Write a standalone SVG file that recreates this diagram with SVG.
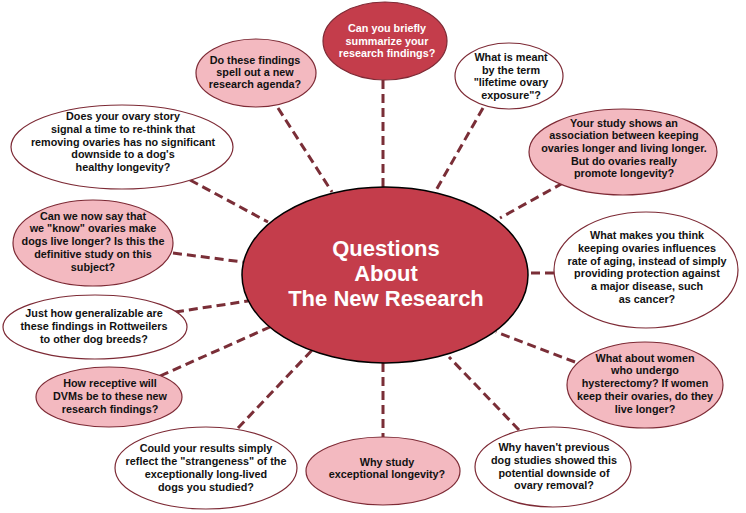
<svg xmlns="http://www.w3.org/2000/svg" width="746" height="513" viewBox="0 0 746 513">
<style>
.bg{fill:#ffffff}
.con line{stroke:#7a2e37;stroke-width:3;stroke-dasharray:9 5;fill:none}
.n{stroke:#7d2a35;stroke-width:1.2}
.w{fill:#ffffff}
.p{fill:#f3b9c0}
.d{fill:#c43d4b}
.t{font-family:"Liberation Sans",Arial,sans-serif;font-weight:bold;font-size:10.8px;fill:#111111;text-anchor:middle}
.tw{fill:#ffffff}
.ct{font-family:"Liberation Sans",Arial,sans-serif;font-weight:bold;font-size:22px;fill:#ffffff;text-anchor:middle}
</style>
<rect class="bg" width="746" height="513"/>
<g id="connectors" class="con">
<line x1="383" y1="80" x2="383" y2="187"/>
<line x1="278" y1="108" x2="332" y2="192"/>
<line x1="483" y1="108" x2="435" y2="192"/>
<line x1="563" y1="183" x2="500" y2="218"/>
<line x1="554" y1="273" x2="528" y2="273"/>
<line x1="575" y1="362" x2="496" y2="332"/>
<line x1="519" y1="430" x2="449" y2="357"/>
<line x1="383" y1="363" x2="383" y2="437"/>
<line x1="238" y1="428" x2="315" y2="347"/>
<line x1="160" y1="376" x2="270" y2="327"/>
<line x1="175" y1="312" x2="248" y2="301"/>
<line x1="173" y1="253" x2="243" y2="262"/>
<line x1="190" y1="180" x2="268" y2="222"/>
</g>
<g id="center">
<ellipse cx="385" cy="275" rx="143" ry="88" fill="#c43d4b" stroke="#000000" stroke-width="1.5"/>
<text class="ct" x="386" y="256">Questions</text>
<text class="ct" x="386" y="281">About</text>
<text class="ct" x="386" y="306">The New Research</text>
</g>
<g id="n-summarize">
<ellipse class="n d" cx="385" cy="41" rx="62" ry="39"/>
<text class="t tw" x="387" y="32">Can you briefly</text>
<text class="t tw" x="387" y="45">summarize your</text>
<text class="t tw" x="387" y="57">research findings?</text>
</g>
<g id="n-agenda">
<ellipse class="n p" cx="256" cy="73" rx="60" ry="34"/>
<text class="t" x="255" y="64">Do these findings</text>
<text class="t" x="255" y="76">spell out a new</text>
<text class="t" x="255" y="88">research agenda?</text>
</g>
<g id="n-lifetime">
<ellipse class="n w" cx="509" cy="76" rx="54" ry="33"/>
<text class="t" x="511" y="61">What is meant</text>
<text class="t" x="511" y="74">by the term</text>
<text class="t" x="511" y="86">"lifetime ovary</text>
<text class="t" x="511" y="99">exposure"?</text>
</g>
<g id="n-association">
<ellipse class="n p" cx="623" cy="152" rx="94" ry="43"/>
<text class="t" x="624" y="127">Your study shows an</text>
<text class="t" x="624" y="139">association between keeping</text>
<text class="t" x="624" y="152">ovaries longer and living longer.</text>
<text class="t" x="624" y="165">But do ovaries really</text>
<text class="t" x="624" y="177">promote longevity?</text>
</g>
<g id="n-aging">
<ellipse class="n w" cx="646" cy="270" rx="92" ry="58"/>
<text class="t" x="647" y="239">What makes you think</text>
<text class="t" x="647" y="252">keeping ovaries influences</text>
<text class="t" x="647" y="265">rate of aging, instead of simply</text>
<text class="t" x="647" y="277">providing protection against</text>
<text class="t" x="647" y="290">a major disease, such</text>
<text class="t" x="647" y="303">as cancer?</text>
</g>
<g id="n-women">
<ellipse class="n p" cx="645" cy="385" rx="78" ry="43"/>
<text class="t" x="645" y="362">What about women</text>
<text class="t" x="645" y="374">who undergo</text>
<text class="t" x="645" y="387">hysterectomy? If women</text>
<text class="t" x="645" y="400">keep their ovaries, do they</text>
<text class="t" x="645" y="413">live longer?</text>
</g>
<g id="n-previous">
<ellipse class="n w" cx="553" cy="467" rx="78" ry="40"/>
<text class="t" x="554" y="451">Why haven't previous</text>
<text class="t" x="554" y="464">dog studies showed this</text>
<text class="t" x="554" y="477">potential downside of</text>
<text class="t" x="554" y="489">ovary removal?</text>
</g>
<g id="n-exceptional">
<ellipse class="n p" cx="383" cy="471" rx="77" ry="34"/>
<text class="t" x="387" y="466">Why study</text>
<text class="t" x="387" y="478">exceptional longevity?</text>
</g>
<g id="n-strangeness">
<ellipse class="n w" cx="206" cy="468" rx="91" ry="41"/>
<text class="t" x="206" y="452">Could your results simply</text>
<text class="t" x="206" y="465">reflect the "strangeness" of the</text>
<text class="t" x="206" y="478">exceptionally long-lived</text>
<text class="t" x="206" y="491">dogs you studied?</text>
</g>
<g id="n-dvms">
<ellipse class="n p" cx="109" cy="397" rx="73" ry="30"/>
<text class="t" x="110" y="387">How receptive will</text>
<text class="t" x="110" y="400">DVMs be to these new</text>
<text class="t" x="110" y="413">research findings?</text>
</g>
<g id="n-generalizable">
<ellipse class="n w" cx="95" cy="327" rx="92" ry="32"/>
<text class="t" x="94" y="317">Just how generalizable are</text>
<text class="t" x="94" y="330">these findings in Rottweilers</text>
<text class="t" x="94" y="343">to other dog breeds?</text>
</g>
<g id="n-know">
<ellipse class="n p" cx="93" cy="243" rx="80" ry="43"/>
<text class="t" x="93" y="220">Can we now say that</text>
<text class="t" x="93" y="232">we "know" ovaries make</text>
<text class="t" x="93" y="245">dogs live longer? Is this the</text>
<text class="t" x="93" y="258">definitive study on this</text>
<text class="t" x="93" y="271">subject?</text>
</g>
<g id="n-rethink">
<ellipse class="n w" cx="122" cy="147" rx="111" ry="42"/>
<text class="t" x="123" y="120">Does your ovary story</text>
<text class="t" x="123" y="133">signal a time to re-think that</text>
<text class="t" x="123" y="146">removing ovaries has no significant</text>
<text class="t" x="123" y="158">downside to a dog's</text>
<text class="t" x="123" y="171">healthy longevity?</text>
</g>
</svg>
